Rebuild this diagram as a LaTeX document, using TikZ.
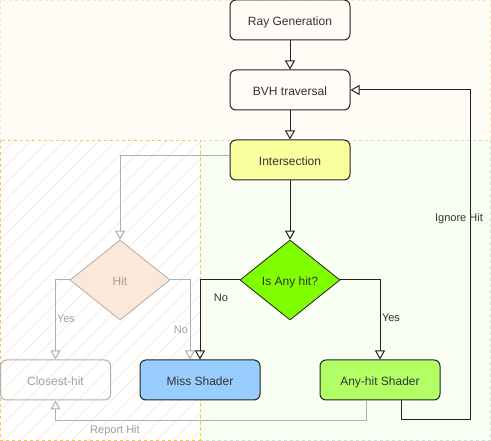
\documentclass[tikz,border=0pt]{standalone}
\usepackage{fontspec}
\setmainfont{Liberation Sans}
\usetikzlibrary{shapes.geometric,arrows.meta}
\definecolor{topbg}{HTML}{FFFCF5}
\definecolor{topbd}{HTML}{F5E9C0}
\definecolor{rightbg}{HTML}{F8FFF2}
\definecolor{rightbd}{HTML}{D8DCD8}
\definecolor{leftbd}{HTML}{F2C65A}
\definecolor{hatchc}{HTML}{FCEBD6}
\definecolor{ink}{HTML}{222222}
\definecolor{txt}{HTML}{333333}
\definecolor{gline}{HTML}{B0B0B0}
\definecolor{gtxt}{HTML}{A0A0A0}
\definecolor{isectc}{HTML}{FAFF9E}
\definecolor{anyqc}{HTML}{80FF00}
\definecolor{missc}{HTML}{99CCFF}
\definecolor{anyhc}{HTML}{B3FF66}
\definecolor{hitc}{HTML}{FCE8D8}
\tikzset{
  box/.style={draw=ink, line width=1pt, rounded corners=6pt, minimum width=120pt, minimum height=40pt, inner sep=0pt, text=txt, font=\fontsize{12}{14}\selectfont, text height=11.5pt, text depth=0.5pt},
  gbox/.style={box, draw=gline, text=gtxt},
  dia/.style={diamond, draw=ink, line width=0.8pt, minimum width=100pt, minimum height=80pt, inner sep=0pt, text=txt, font=\fontsize{12}{14}\selectfont, text height=11.5pt, text depth=0.5pt},
  edge/.style={draw=ink, line width=1pt, -{Triangle[open, length=9pt, width=10pt]}},
  gedge/.style={edge, draw=gline},
  lbl/.style={text=txt, font=\fontsize{11}{13}\selectfont, inner sep=0pt},
  glbl/.style={lbl, text=gtxt},
}
\begin{document}
\begin{tikzpicture}[x=1pt,y=-1pt]
\useasboundingbox (0,0) rectangle (491,441);
% regions
\fill[topbg] (0,0) rectangle (491,140);
\draw[topbd, dashed, line width=0.8pt] (0.5,0.5) rectangle (490.5,140);
\fill[rightbg] (200,140) rectangle (491,441);
\draw[rightbd, dashed, line width=0.8pt] (200,140) rectangle (490.5,440.5);
\fill[white] (0,140) rectangle (200,441);
\begin{scope}
\clip (0,140) rectangle (200,441);
\foreach \i in {0,...,32} \draw[hatchc, line width=1pt] (\i*17-320,441) -- ++(330,-330);
\end{scope}
\draw[leftbd, dashed, line width=0.8pt] (0.5,140) rectangle (200,440.5);
% nodes
\node[box] (rg) at (290,20) {Ray Generation};
\node[box] (bvh) at (290,90) {BVH traversal};
\node[box, fill=isectc] (isect) at (290,160) {Intersection};
\node[dia, fill=hitc, draw=gline, text=gtxt] (hit) at (120,280) {Hit};
\node[dia, fill=anyqc] (anyq) at (290,280) {Is Any hit?};
\node[gbox, minimum width=110pt] (closest) at (55.5,380) {Closest-hit};
\node[box, fill=missc] (miss) at (200,380) {Miss Shader};
\node[box, fill=anyhc] (anyhit) at (380,380) {Any-hit Shader};
\coordinate (ig) at (470,420);
% gray edges
\draw[gedge] ([yshift=4pt]isect.west) -| (hit.north);
\draw[gedge] (hit.west) -| (closest.north);
\draw[gedge] (hit.east) -| ([xshift=-10pt]miss.north);
\draw[gedge] ([xshift=-14pt]anyhit.south) -- ++(0,20) -| (closest.south);
\node[glbl] at (66,319) {Yes};
\node[glbl] at (181,330) {No};
\node[glbl] at (115,431) {Report Hit};
% black edges
\draw[edge] (rg) -- (bvh);
\draw[edge] (bvh) -- (isect);
\draw[edge] (isect) -- (anyq);
\draw[edge] (anyq.west) -| (miss.north);
\draw[edge] (anyq.east) -| (anyhit.north);
\draw[edge] ([xshift=21pt]anyhit.south) |- (ig) |- (bvh.east);
\node[lbl] at (221,298) {No};
\node[lbl] at (391,318) {Yes};
\node[lbl] at (459,219) {Ignore Hit};
\end{tikzpicture}
\end{document}
